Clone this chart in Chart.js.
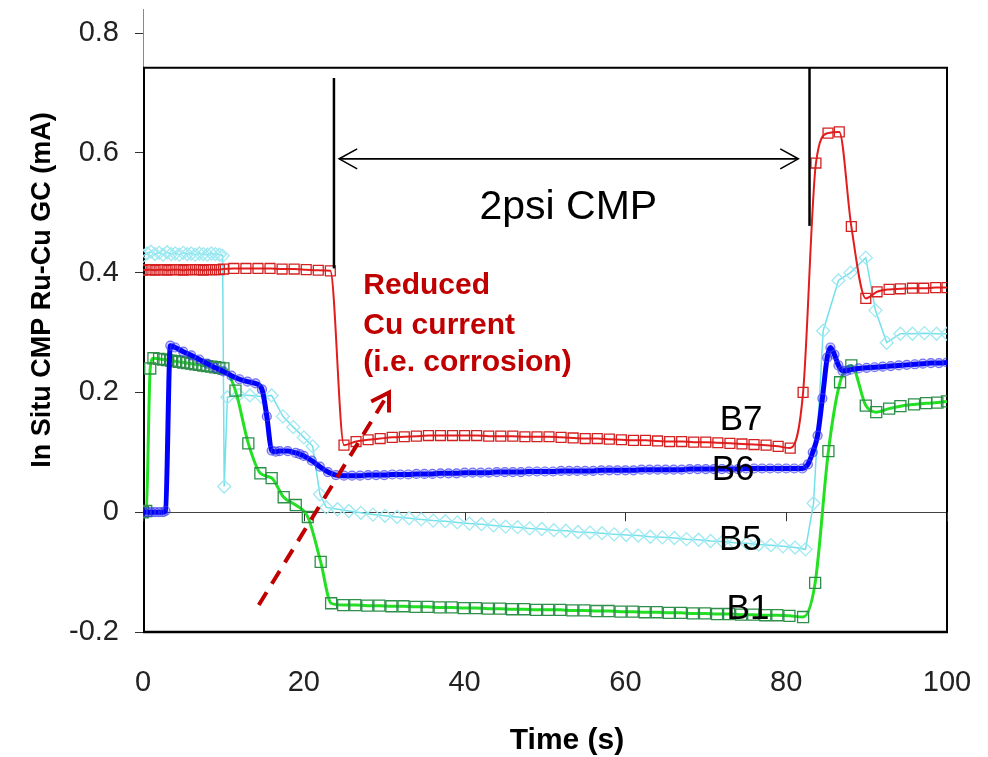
<!DOCTYPE html>
<html>
<head>
<meta charset="utf-8">
<script src="https://cdn.jsdelivr.net/npm/chart.js@4.4.1/dist/chart.umd.min.js"></script>
<style>
html,body{margin:0;padding:0;background:#fff;}
canvas{display:block;}
</style>
</head>
<body>
<canvas id="c" width="988" height="757"></canvas>
<script>
// ---------------- data ----------------
const xTicks = [0, 20, 40, 60, 80, 100];
const yTicks = [-0.2, 0, 0.2, 0.4, 0.6, 0.8];

const b7Time = [0,0.5,1,1.5,2,2.5,3,3.5,4,4.5,5,5.5,6,6.5,7,7.5,8,8.5,9,9.5,10,
  11.3,12.8,14.3,15.8,17.3,18.8,20.3,21.8,23.3,
  25.0,26.5,28.0,29.5,31.0,32.5,34.0,35.5,37.0,38.5,40.0,41.5,43.0,44.5,46.0,47.5,49.0,50.5,52.0,53.5,
  55.0,56.5,58.0,59.5,61.0,62.5,64.0,65.5,67.0,68.5,70.0,71.5,73.0,74.5,76.0,77.5,79.0,80.5,
  82.1,83.7,85.2,86.6,88.1,89.9,91.3,92.8,94.2,95.7,97.1,98.6,100];
const b7Value = [0.404,0.405,0.405,0.404,0.405,0.405,0.404,0.405,0.405,0.405,0.404,0.405,0.405,0.405,0.405,0.404,0.405,0.405,0.405,0.405,0.406,
  0.407,0.407,0.407,0.407,0.406,0.406,0.405,0.404,0.403,
  0.112,0.118,0.121,0.123,0.125,0.126,0.127,0.128,0.128,0.128,0.128,0.128,0.127,0.127,0.127,0.126,0.126,0.126,0.125,0.124,
  0.123,0.123,0.122,0.121,0.120,0.120,0.119,0.118,0.118,0.117,0.117,0.116,0.115,0.114,0.113,0.112,0.110,0.107,
  0.200,0.583,0.633,0.635,0.477,0.357,0.368,0.372,0.373,0.374,0.374,0.375,0.375];

const b6Time = [0,0.5,1,1.5,2,2.5,2.8,3.4,4,5,6,7,8,9,10,11,12,13,14,
  14.8,15.4,16,16.5,17,18,19,19.5,20,21,22,23,24,25,
  26,27,28,29,30,31,32,33,34,35,36,37,38,39,40,41,42,43,44,45,46,47,48,49,50,51,52,53,
  54,55,56,57,58,59,60,61,62,63,64,65,66,67,68,69,70,71,72,73,74,75,76,77,78,79,80,81,
  82,82.7,83.3,83.9,84.5,85.1,85.5,86,86.5,87,87.5,88,89,90,91,92,93,94,95,96,97,98,99,100];
const b6Value = [0,0,0,0,0,0,0.002,0.278,0.275,0.268,0.262,0.255,0.248,0.241,0.235,0.228,0.222,0.218,0.215,
  0.205,0.160,0.103,0.101,0.102,0.102,0.099,0.097,0.094,0.086,0.076,0.067,0.062,0.061,
  0.061,0.061,0.062,0.062,0.062,0.063,0.063,0.063,0.064,0.064,0.064,0.065,0.065,0.065,0.066,0.066,0.066,0.066,0.067,0.067,0.067,0.067,0.068,0.068,0.068,0.068,0.069,0.069,
  0.069,0.069,0.069,0.070,0.070,0.070,0.070,0.070,0.071,0.071,0.071,0.071,0.071,0.071,0.072,0.072,0.072,0.072,0.072,0.072,0.072,0.073,0.073,0.073,0.073,0.073,0.073,0.073,
  0.073,0.080,0.100,0.128,0.190,0.258,0.275,0.263,0.245,0.236,0.236,0.238,0.240,0.241,0.242,0.243,0.244,0.245,0.246,0.247,0.248,0.249,0.249,0.250];

const b5Time = [0,0.5,1,1.5,2,2.5,3,3.5,4,4.5,5,5.5,6,6.5,7,7.5,8,8.5,9,9.5,9.9,
  10.1,10.5,11.9,13.3,14.7,16.0,17.4,18.7,20.0,21.1,22.0,22.8,24.2,
  25.6,27.1,28.6,30.1,31.6,33.1,34.6,36.1,37.6,39.1,40.6,42.1,43.6,45.1,46.6,48.1,49.6,51.1,52.6,
  54.1,55.6,57.1,58.6,60.1,61.6,63.1,64.6,66.1,67.6,69.1,70.6,72.1,73.6,75.1,76.6,78.1,79.6,81.1,82.4,
  83.4,84.6,86.5,88.0,89.9,91.1,92.5,94.2,95.7,97.2,98.7,100];
const b5Value = [0.428,0.432,0.435,0.431,0.433,0.430,0.434,0.431,0.432,0.430,0.433,0.431,0.432,0.430,0.432,0.431,0.430,0.432,0.431,0.430,0.428,
  0.043,0.192,0.196,0.195,0.193,0.195,0.160,0.142,0.125,0.110,0.030,0.008,0.005,
  0.002,-0.001,-0.004,-0.006,-0.008,-0.010,-0.012,-0.014,-0.015,-0.017,-0.019,-0.020,-0.022,-0.024,-0.025,-0.027,-0.028,-0.030,-0.031,
  -0.033,-0.034,-0.035,-0.037,-0.038,-0.039,-0.041,-0.042,-0.043,-0.045,-0.046,-0.048,-0.049,-0.051,-0.052,-0.054,-0.055,-0.057,-0.059,-0.062,
  0.015,0.303,0.387,0.400,0.425,0.337,0.283,0.298,0.298,0.299,0.298,0.298];

const b1Time = [0,0.4,0.9,1.3,2,2.5,3,3.5,4,4.5,5,5.5,6,6.5,7,7.5,8,8.5,9,9.5,10,
  11.5,13.1,14.6,16.0,17.5,19.0,20.5,22.1,23.4,24.9,
  26.4,27.9,29.4,30.9,32.4,33.9,35.4,36.9,38.4,39.9,41.4,42.9,44.4,45.9,47.4,48.9,50.4,51.9,53.4,
  54.9,56.4,57.9,59.4,60.9,62.4,63.9,65.4,66.9,68.4,69.9,71.4,72.9,74.4,75.9,77.4,78.9,80.4,
  82.1,83.6,85.25,86.7,88.1,89.9,91.2,92.8,94.2,95.9,97.4,98.8,100];
const b1Value = [0,0.002,0.240,0.257,0.256,0.255,0.254,0.253,0.252,0.251,0.250,0.249,0.248,0.247,0.246,0.245,0.244,0.243,0.242,0.241,0.240,
  0.203,0.115,0.065,0.057,0.025,0.012,-0.008,-0.083,-0.152,-0.155,
  -0.155,-0.156,-0.156,-0.157,-0.157,-0.158,-0.158,-0.159,-0.159,-0.160,-0.160,-0.161,-0.161,-0.162,-0.162,-0.163,-0.163,-0.163,-0.164,
  -0.164,-0.165,-0.165,-0.166,-0.166,-0.167,-0.167,-0.168,-0.168,-0.169,-0.169,-0.170,-0.170,-0.171,-0.171,-0.172,-0.172,-0.173,
  -0.175,-0.118,0.102,0.217,0.245,0.178,0.167,0.173,0.177,0.180,0.182,0.183,0.185];

const seriesLabels = ['B6', 'B7', 'B1', 'B5'];

// annotation anchors (data units)
const frameTop = 0.742;
const markerA = {x: 23.75, from: 0.725, to: 0.407};
const markerB = {x: 82.9, from: 0.742, to: 0.478};
const spanArrow = {from: 24.4, to: 81.5, y: 0.59};
const spanText = {text: '2psi CMP', x: 52.9, y: 0.508};
const noteLines = ['Reduced', 'Cu current', '(i.e. corrosion)'];
const noteAnchor = {x: 27.4, y: [0.378, 0.312, 0.25]};
const redArrow = {x0: 14.4, y0: -0.155, x1: 30.6, y1: 0.2};
const curveLabels = [
  {text: 'B7', x: 74.4, y: 0.153},
  {text: 'B6', x: 73.4, y: 0.070},
  {text: 'B5', x: 74.3, y: -0.047},
  {text: 'B1', x: 75.25, y: -0.162}
];

const FONT = "'Liberation Sans', Arial, Helvetica, sans-serif";
const pts = (ts, vs) => ts.map((t, i) => ({x: t, y: vs[i]}));

function arrowHead(ctx, x, y, dir, len, half) {
  ctx.beginPath();
  ctx.moveTo(x - dir * len, y - half);
  ctx.lineTo(x, y);
  ctx.lineTo(x - dir * len, y + half);
  ctx.stroke();
}

const decor = {
  id: 'decor',
  beforeDatasetsDraw(chart) {
    const {ctx, chartArea: a, scales: {x, y}} = chart;
    ctx.save();
    const ft = y.getPixelForValue(frameTop);
    ctx.strokeStyle = '#000';
    ctx.lineWidth = 2;
    ctx.beginPath();
    ctx.moveTo(a.left + 1, a.bottom);
    ctx.lineTo(a.left + 1, ft);
    ctx.lineTo(a.right, ft);
    ctx.lineTo(a.right, a.bottom);
    ctx.stroke();
    ctx.lineWidth = 2.5;
    ctx.beginPath();
    ctx.moveTo(a.left, a.bottom);
    ctx.lineTo(a.right + 1, a.bottom);
    ctx.stroke();
    // ticks along the zero line
    const y0 = y.getPixelForValue(0);
    ctx.lineWidth = 1;
    ctx.strokeStyle = '#333';
    xTicks.forEach(t => {
      const px = Math.round(x.getPixelForValue(t)) + 0.5;
      ctx.beginPath();
      ctx.moveTo(px, y0);
      ctx.lineTo(px, y0 + 9);
      ctx.stroke();
    });
    ctx.restore();
  },
  afterDraw(chart) {
    const {ctx, chartArea: a, scales: {x, y}} = chart;
    ctx.save();
    // vertical markers
    ctx.strokeStyle = '#000';
    ctx.lineWidth = 2.5;
    [markerA, markerB].forEach(m => {
      const px = x.getPixelForValue(m.x);
      ctx.beginPath();
      ctx.moveTo(px, y.getPixelForValue(m.from));
      ctx.lineTo(px, y.getPixelForValue(m.to));
      ctx.stroke();
    });
    // double arrow
    const ay = y.getPixelForValue(spanArrow.y);
    const ax0 = x.getPixelForValue(spanArrow.from);
    const ax1 = x.getPixelForValue(spanArrow.to);
    ctx.lineWidth = 1.6;
    ctx.beginPath();
    ctx.moveTo(ax0, ay);
    ctx.lineTo(ax1, ay);
    ctx.stroke();
    arrowHead(ctx, ax1, ay, 1, 18, 10);
    arrowHead(ctx, ax0, ay, -1, 18, 10);
    // span text
    ctx.fillStyle = '#000';
    ctx.font = '41px ' + FONT;
    ctx.textAlign = 'center';
    ctx.textBaseline = 'middle';
    ctx.fillText(spanText.text, x.getPixelForValue(spanText.x), y.getPixelForValue(spanText.y));
    // curve labels
    ctx.font = '35px ' + FONT;
    curveLabels.forEach(l => {
      ctx.fillText(l.text, x.getPixelForValue(l.x), y.getPixelForValue(l.y));
    });
    // red note
    ctx.fillStyle = '#c00000';
    ctx.font = 'bold 30px ' + FONT;
    ctx.textAlign = 'left';
    noteLines.forEach((s, i) => {
      ctx.fillText(s, x.getPixelForValue(noteAnchor.x), y.getPixelForValue(noteAnchor.y[i]));
    });
    // red dashed arrow
    const rx0 = x.getPixelForValue(redArrow.x0), ry0 = y.getPixelForValue(redArrow.y0);
    const rx1 = x.getPixelForValue(redArrow.x1), ry1 = y.getPixelForValue(redArrow.y1);
    ctx.strokeStyle = '#c00000';
    ctx.lineWidth = 4;
    ctx.setLineDash([15, 10]);
    ctx.beginPath();
    ctx.moveTo(rx0, ry0);
    ctx.lineTo(rx1 - 3, ry1 + 5);
    ctx.stroke();
    ctx.setLineDash([]);
    const ang = Math.atan2(ry1 - ry0, rx1 - rx0);
    const hl = 20, hw = 0.55;
    ctx.beginPath();
    ctx.moveTo(rx1 - hl * Math.cos(ang - hw), ry1 - hl * Math.sin(ang - hw));
    ctx.lineTo(rx1, ry1);
    ctx.lineTo(rx1 - hl * Math.cos(ang + hw), ry1 - hl * Math.sin(ang + hw));
    ctx.stroke();
    // y-axis title
    ctx.fillStyle = '#000';
    ctx.font = 'bold 27px ' + FONT;
    ctx.textAlign = 'center';
    ctx.textBaseline = 'alphabetic';
    ctx.translate(50, 290);
    ctx.rotate(-Math.PI / 2);
    ctx.fillText('In Situ CMP Ru-Cu GC (mA)', 0, 0);
    ctx.restore();
    // x-axis title
    ctx.save();
    ctx.fillStyle = '#000';
    ctx.font = 'bold 30px ' + FONT;
    ctx.textAlign = 'center';
    ctx.textBaseline = 'middle';
    ctx.fillText('Time (s)', 567, 741);
    ctx.restore();
  }
};

new Chart(document.getElementById('c'), {
  type: 'scatter',
  data: {
    datasets: [
      {
        label: seriesLabels[0], data: pts(b6Time, b6Value), showLine: true,
        borderColor: '#0000ff', borderWidth: 5, cubicInterpolationMode: 'monotone',
        pointStyle: 'circle', pointRadius: 4.5, pointBorderWidth: 1.2,
        pointBorderColor: 'rgba(60,60,235,0.7)', pointBackgroundColor: 'rgba(0,0,255,0.2)'
      },
      {
        label: seriesLabels[1], data: pts(b7Time, b7Value), showLine: true,
        borderColor: '#e41c1c', borderWidth: 2, cubicInterpolationMode: 'monotone',
        pointStyle: 'rect', pointRadius: 7, pointBorderWidth: 1.3,
        pointBorderColor: '#d42020', pointBackgroundColor: 'rgba(255,255,255,0)'
      },
      {
        label: seriesLabels[2], data: pts(b1Time, b1Value), showLine: true,
        borderColor: '#22e022', borderWidth: 3, cubicInterpolationMode: 'monotone',
        pointStyle: 'rect', pointRadius: 7.8, pointBorderWidth: 1.3,
        pointBorderColor: '#2e8f4a', pointBackgroundColor: 'rgba(255,255,255,0)'
      },
      {
        label: seriesLabels[3], data: pts(b5Time, b5Value), showLine: true,
        borderColor: '#74e0ec', borderWidth: 1.5, tension: 0,
        pointStyle: 'rectRot', pointRadius: 6.5, pointBorderWidth: 1.3,
        pointBorderColor: '#9fe9f2', pointBackgroundColor: 'rgba(255,255,255,0)'
      }
    ]
  },
  options: {
    responsive: false,
    devicePixelRatio: 1,
    animation: false,
    layout: {padding: {top: 8, right: 41, left: 0, bottom: 0}},
    plugins: {legend: {display: false}, tooltip: {enabled: false}},
    scales: {
      x: {
        type: 'linear', min: 0, max: 100,
        afterFit: s => { s.height = 125; s.paddingLeft = 0; s.paddingRight = 0; },
        afterBuildTicks: s => { s.ticks = xTicks.map(v => ({value: v})); },
        ticks: {font: {family: FONT, size: 29}, color: '#222', padding: 34, maxRotation: 0},
        grid: {display: true, drawOnChartArea: false, drawTicks: false},
        border: {display: false}
      },
      y: {
        type: 'linear', min: -0.2, max: 0.84,
        afterFit: s => { s.width = 143; s.paddingTop = 0; s.paddingBottom = 0; },
        afterBuildTicks: s => { s.ticks = yTicks.map(v => ({value: v})); },
        ticks: {
          font: {family: FONT, size: 29}, color: '#222', padding: 16,
          callback: v => (Math.abs(v) < 1e-9 ? '0' : v.toFixed(1))
        },
        grid: {
          drawTicks: true, tickLength: 8, tickColor: '#333', lineWidth: 1,
          color: c => (c.tick && Math.abs(c.tick.value) < 1e-9 ? '#444' : 'rgba(0,0,0,0)')
        },
        border: {display: true, color: '#888', width: 1}
      }
    }
  },
  plugins: [decor]
});
</script>
</body>
</html>
